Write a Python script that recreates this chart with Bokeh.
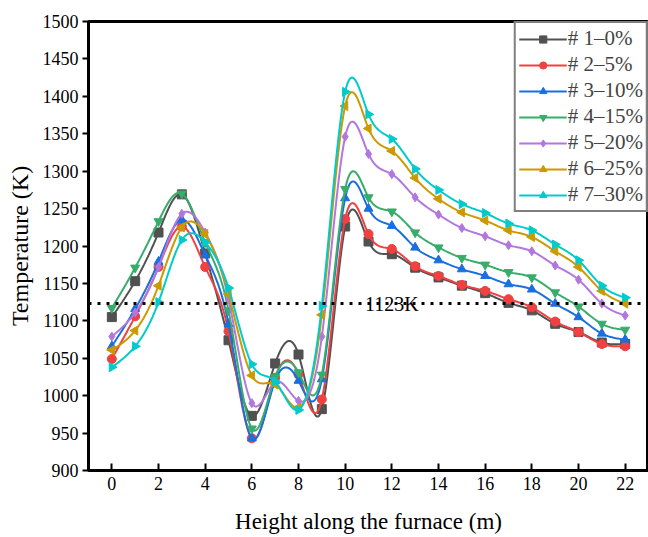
import numpy as np
from bokeh.plotting import figure
from bokeh.models import Span, Label, Legend, LegendItem, FixedTicker
from bokeh.embed import file_html
from bokeh.resources import INLINE

# ---- data ----
heights = list(range(23))  # m
s1_0pct = [1105, 1153, 1218, 1269, 1190, 1074, 973, 1043, 1055, 982, 1226, 1206, 1189,
           1171, 1158, 1147, 1137, 1124, 1114, 1096, 1085, 1071, 1069]
s2_5pct = [1049, 1106, 1172, 1226, 1172, 1086, 943, 1024, 1028, 995, 1236, 1216, 1196,
           1173, 1160, 1148, 1140, 1129, 1118, 1099, 1085, 1069, 1066]
s3_10pct = [1066, 1116, 1179, 1235, 1188, 1096, 943, 1020, 1020, 1022, 1264, 1250, 1227,
            1198, 1181, 1169, 1160, 1149, 1142, 1123, 1105, 1083, 1075]
s4_15pct = [1117, 1171, 1233, 1270, 1205, 1114, 956, 1025, 1031, 1028, 1276, 1265, 1246,
            1218, 1198, 1184, 1175, 1165, 1158, 1138, 1119, 1096, 1088]
s5_20pct = [1079, 1111, 1172, 1243, 1218, 1129, 990, 1018, 993, 1079, 1346, 1323, 1296,
            1265, 1242, 1224, 1213, 1201, 1193, 1174, 1155, 1123, 1107]
s6_25pct = [1061, 1087, 1147, 1225, 1216, 1136, 1027, 1015, 984, 1108, 1387, 1357, 1327,
            1291, 1263, 1245, 1234, 1221, 1212, 1193, 1172, 1140, 1123]
s7_30pct = [1038, 1066, 1125, 1208, 1205, 1144, 1042, 1019, 981, 1120, 1406, 1376, 1343,
            1303, 1275, 1256, 1244, 1230, 1221, 1202, 1181, 1147, 1131]
series = [s1_0pct, s2_5pct, s3_10pct, s4_15pct, s5_20pct, s6_25pct, s7_30pct]
names = ["# 1\u20130%", "# 2\u20135%", "# 3\u201310%", "# 4\u201315%",
         "# 5\u201320%", "# 6\u201325%", "# 7\u201330%"]
threshold = 1123
threshold_text = "1123K"
y_ticks = list(range(900, 1501, 50))
x_ticks = list(range(0, 23, 2))

colors = ["#515151", "#F14040", "#1A6FDF", "#37AD6B", "#B177DE", "#CC9900", "#00CBCC"]
markers = ["square", "circle", "triangle", "inverted_triangle", "diamond", "triangle", "triangle"]
angles = [0, 0, 0, 0, 0, np.pi / 2, -np.pi / 2]


def natural_spline(xs, ys, per=24):
    """Smooth connecting line (like Origin 'Spline' connect) through the data points."""
    xs = np.asarray(xs, float)
    ys = np.asarray(ys, float)
    n = len(xs)
    h = np.diff(xs)
    A = np.zeros((n, n))
    b = np.zeros(n)
    A[0, 0] = 1
    A[-1, -1] = 1
    for i in range(1, n - 1):
        A[i, i - 1] = h[i - 1]
        A[i, i] = 2 * (h[i - 1] + h[i])
        A[i, i + 1] = h[i]
        b[i] = 6 * ((ys[i + 1] - ys[i]) / h[i] - (ys[i] - ys[i - 1]) / h[i - 1])
    M = np.linalg.solve(A, b)
    out_x, out_y = [], []
    for i in range(n - 1):
        t = np.linspace(xs[i], xs[i + 1], per, endpoint=(i == n - 2))
        a = xs[i + 1] - t
        c = t - xs[i]
        y = (M[i] * a ** 3 + M[i + 1] * c ** 3) / (6 * h[i]) \
            + (ys[i] / h[i] - M[i] * h[i] / 6) * a + (ys[i + 1] / h[i] - M[i + 1] * h[i] / 6) * c
        out_x.extend(t.tolist())
        out_y.extend(y.tolist())
    return out_x, out_y


FONT = "Liberation Serif"

p = figure(width=648, height=537, x_range=(-1, 23), y_range=(900, 1500),
           output_backend="svg", toolbar_location=None,
           min_border_left=88, min_border_right=0, min_border_top=21, min_border_bottom=67)
p.background_fill_color = "white"
p.border_fill_color = "white"
p.xgrid.visible = False
p.ygrid.visible = False
p.outline_line_color = "black"
p.outline_line_width = 3

p.xaxis.ticker = FixedTicker(ticks=x_ticks)
p.yaxis.ticker = FixedTicker(ticks=y_ticks)
for ax in (p.xaxis, p.yaxis):
    ax.axis_line_width = 3
    ax.axis_line_color = "black"
    ax.major_tick_line_width = 2
    ax.major_tick_line_color = "black"
    ax.minor_tick_line_color = None
    ax.major_label_text_font = FONT
    ax.major_label_text_font_size = "18px"
    ax.major_label_text_color = "black"
    ax.axis_label_text_font = FONT
    ax.axis_label_text_font_style = "normal"
    ax.axis_label_text_color = "black"
p.xaxis.major_tick_in = 7
p.xaxis.major_tick_out = 0
p.yaxis.major_tick_in = 0
p.yaxis.major_tick_out = 6
p.xaxis.major_label_standoff = 6
p.yaxis.major_label_standoff = 4
p.xaxis.axis_label = "Height along the furnace (m)"
p.yaxis.axis_label = "Temperature (K)"
p.xaxis.axis_label_text_font_size = "23px"
p.yaxis.axis_label_text_font_size = "24px"
p.xaxis.axis_label_standoff = 16
p.yaxis.axis_label_standoff = 7

items = []
for ys, name, col, mk, ang in zip(series, names, colors, markers, angles):
    sx, sy = natural_spline(heights, ys)
    lr = p.line(sx, sy, line_color=col, line_width=2)
    sr = p.scatter(heights, ys, marker=mk, angle=ang, size=9, fill_color=col, line_color=col)
    items.append(LegendItem(label=name, renderers=[lr, sr]))

p.add_layout(Span(location=threshold, dimension="width", line_color="black",
                  line_width=3, line_dash="3 6"))
p.add_layout(Label(x=10.85, y=threshold, text=threshold_text, text_baseline="middle",
                   text_font=FONT, text_font_size="20px", text_color="black"))

legend = Legend(items=items, location="top_right", margin=0, padding=3, spacing=1,
                glyph_width=48, glyph_height=18, label_height=18, label_standoff=1,
                label_text_font=FONT, label_text_font_size="21px",
                border_line_color="black", border_line_width=2,
                background_fill_color="white", background_fill_alpha=1)
p.add_layout(legend)

open("out.html", "w").write(file_html(p, INLINE))
